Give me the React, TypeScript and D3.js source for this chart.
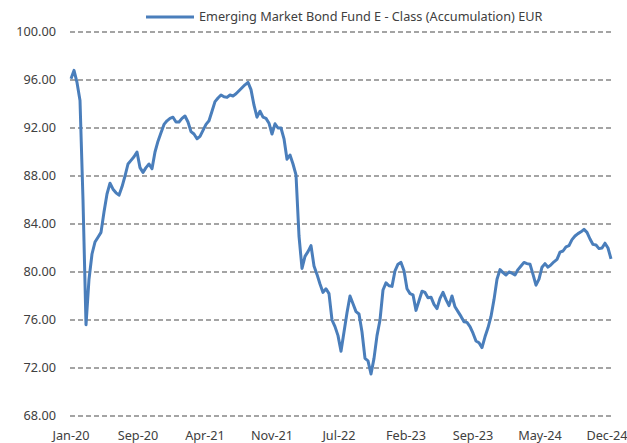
import React, { useEffect, useRef } from "react";
import * as d3 from "d3";

const seriesName = "Emerging Market Bond Fund E - Class (Accumulation) EUR";

const xTickLabels = [
  "Jan-20", "Sep-20", "Apr-21", "Nov-21", "Jul-22",
  "Feb-23", "Sep-23", "May-24", "Dec-24"
];

const yTicks = [68, 72, 76, 80, 84, 88, 92, 96, 100];

// fund price, evenly spaced from Jan-20 to Dec-24
const prices = [
  96.1, 96.8, 95.8, 94.3, 86.0, 75.6, 79.4, 81.5, 82.5, 82.9,
  83.3, 85.0, 86.5, 87.4, 86.9, 86.6, 86.4, 87.1, 88.0, 89.0,
  89.3, 89.6, 90.0, 88.7, 88.3, 88.7, 89.0, 88.6, 90.0, 90.9,
  91.6, 92.3, 92.6, 92.8, 92.9, 92.5, 92.5, 92.8, 93.0, 92.5,
  91.7, 91.5, 91.1, 91.3, 91.8, 92.3, 92.6, 93.4, 94.2, 94.5,
  94.75, 94.6, 94.55, 94.75, 94.67, 94.85, 95.1, 95.35, 95.6, 95.8,
  95.2, 93.9, 92.9, 93.4, 92.9, 92.8, 92.4, 91.5, 92.35, 92.0,
  92.0, 91.1, 89.4, 89.75, 89.0, 88.1, 83.0, 80.3, 81.3, 81.7,
  82.2, 80.5, 79.8, 79.0, 78.3, 78.6, 78.2, 76.0, 75.45, 74.7,
  73.4, 75.0, 76.6, 78.0, 77.35, 76.7, 76.5, 75.0, 72.8, 72.6,
  71.5, 72.8, 74.7, 76.0, 78.5, 79.1, 78.85, 78.8, 80.1, 80.65,
  80.8, 80.1, 78.6, 78.2, 78.1, 76.8, 77.6, 78.4, 78.3, 77.85,
  77.9, 77.3, 76.95, 77.8, 78.3, 77.7, 77.2, 78.0, 77.1, 76.7,
  76.3, 75.85, 75.8, 75.45, 74.9, 74.25, 74.1, 73.7, 74.6, 75.35,
  76.3, 77.7, 79.4, 80.2, 79.95, 79.75, 80.0, 79.9, 79.75, 80.2,
  80.5, 80.8, 80.7, 80.65, 79.8, 78.9, 79.4, 80.4, 80.7, 80.4,
  80.6, 80.85, 81.05, 81.65, 81.75, 82.1, 82.2, 82.7, 83.0, 83.2,
  83.35, 83.55, 83.3, 82.75, 82.3, 82.25, 81.95, 82.0, 82.4, 82.0,
  81.1
];

function LineChart({ width, height }: { width: number; height: number }) {
  const chartRef = useRef<SVGSVGElement>(null);

  useEffect(() => {
    const svg = d3.select(chartRef.current);
    const font = "'Noto Sans', 'Open Sans', sans-serif";
    const fontSize = 12.7;
    const textColor = "#404040";
    const blue = "#4a7ebb";
    const plot = { left: 70, right: 613, top: 32, bottom: 416 };

    const y = d3.scaleLinear().domain([68, 100]).range([plot.bottom, plot.top]);
    const x = d3
      .scaleLinear()
      .domain([0, prices.length - 1])
      .range([plot.left + 1, plot.right - 2]);
    const xLabels = d3
      .scalePoint()
      .domain(xTickLabels)
      .range([plot.left + 1, plot.right - 6]);

    // dashed gridlines
    svg
      .append("g")
      .selectAll("line")
      .data(yTicks)
      .join("line")
      .attr("x1", plot.left)
      .attr("x2", plot.right)
      .attr("y1", d => y(d))
      .attr("y2", d => y(d))
      .attr("stroke", "#868686")
      .attr("stroke-width", 1.5)
      .attr("stroke-dasharray", "5,3");

    svg
      .append("g")
      .selectAll("text")
      .data(yTicks)
      .join("text")
      .attr("x", plot.left - 14)
      .attr("y", d => y(d))
      .attr("dy", "0.35em")
      .attr("text-anchor", "end")
      .attr("font-family", font)
      .attr("font-size", fontSize)
      .attr("fill", textColor)
      .text(d => d.toFixed(2));

    svg
      .append("g")
      .selectAll("text")
      .data(xTickLabels)
      .join("text")
      .attr("x", d => xLabels(d) as number)
      .attr("y", plot.bottom + 20)
      .attr("dy", "0.35em")
      .attr("text-anchor", "middle")
      .attr("font-family", font)
      .attr("font-size", fontSize)
      .attr("fill", textColor)
      .text(d => d);

    const line = d3
      .line<number>()
      .x((d, i) => x(i))
      .y(d => y(d));

    svg
      .append("path")
      .datum(prices)
      .attr("d", line)
      .attr("fill", "none")
      .attr("stroke", blue)
      .attr("stroke-width", 3)
      .attr("stroke-linejoin", "round");

    // legend
    const legend = svg.append("g").attr("transform", "translate(146,17)");
    legend
      .append("line")
      .attr("x1", 0)
      .attr("x2", 48)
      .attr("stroke", blue)
      .attr("stroke-width", 3);
    legend
      .append("text")
      .attr("x", 53)
      .attr("dy", "0.35em")
      .attr("font-family", font)
      .attr("font-size", fontSize)
      .attr("fill", textColor)
      .text(seriesName);

    return () => {
      svg.selectAll("*").remove();
    };
  }, [width, height]);

  return <svg ref={chartRef} width={width} height={height} />;
}

export default function App() {
  return (
    <div style={{ position: "absolute", left: 0, top: 0 }}>
      <LineChart width={627} height={443} />
    </div>
  );
}
